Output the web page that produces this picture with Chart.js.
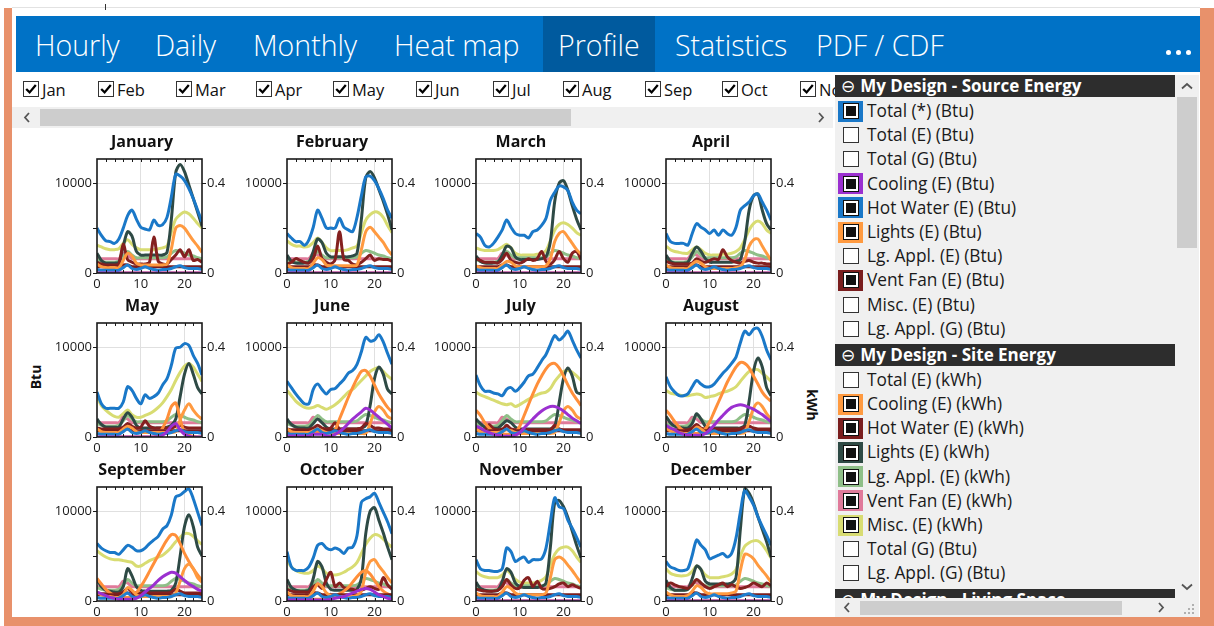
<!DOCTYPE html>
<html>
<head>
<meta charset="utf-8">
<title>Profile</title>
<script src="https://cdn.jsdelivr.net/npm/chart.js@4.4.1/dist/chart.umd.min.js"></script>
<style>
  html, body { margin: 0; padding: 0; }
  body { width: 1214px; height: 626px; overflow: hidden; position: relative; background: #fff;
         font-family: "Open Sans", sans-serif; color: #1a1a1a; }
  .abs { position: absolute; }
  #frame { left: 4px; top: 8px; width: 1210px; height: 618px; background: #e8916b; }
  #inner { left: 12px; top: 8px; width: 1188px; height: 609px; background: #fff; }
  #topline { left: 12px; top: 7px; width: 1188px; height: 1px; background: #e2e2e2; }
  #tabs { left: 16px; top: 16px; width: 1184px; height: 56px; background: #0072c6; }
  #tabsel { left: 527px; top: 0; width: 112px; height: 56px; background: #005a9e; }
  .tab { top: 1px; height: 56px; line-height: 56px; font-size: 28.5px; font-weight: 300; color: #fff; white-space: nowrap; }
  .dot { width: 5px; height: 5px; border-radius: 50%; background: #fff; top: 50px; }
  .mcb { top: 81px; height: 17px; white-space: nowrap; font-size: 16.5px; line-height: 17px; color: #111; }
  .mcb svg { vertical-align: top; margin-right: 3px; }
  #hscroll { left: 12px; top: 107px; width: 821px; height: 21px; background: #f0f0f0; }
  #hthumb { left: 40px; top: 109px; width: 531px; height: 17px; background: #cdcdcd; }
  #panel { left: 835px; top: 75px; width: 340px; height: 523px; background: #f0f0f0; overflow: hidden; }
  .hdr { height: 22px; background: #2d2d2d; color: #fff; font-weight: 700; font-size: 17px; line-height: 22px;
         padding-left: 6px; white-space: nowrap; margin-bottom: 2px; }
  .hdr.next { margin-top: 3px; }
  .hdr .minus { font-family: "DejaVu Sans", sans-serif; font-weight: 400; font-size: 17px; margin-right: 5px; }
  .row { height: 24.2px; position: relative; white-space: nowrap; }
  .cb { position: absolute; left: 3px; top: 1.6px; width: 25px; height: 21px; display: flex; align-items: center; justify-content: center; }
  .box { width: 14px; height: 14px; border: 1px solid #333; background: #fff; }
  .box.on { background: #111; border-color: #111; box-shadow: inset 0 0 0 2px #fff; }
  .lbl { position: absolute; left: 32px; top: 0; line-height: 24.2px; font-size: 17.3px; color: #1a1a1a; }
  #vscroll { left: 1175px; top: 75px; width: 24px; height: 523px; background: #f0f0f0; }
  #vthumb { left: 1177px; top: 97px; width: 20px; height: 151px; background: #cdcdcd; }
  #pscroll { left: 835px; top: 598px; width: 340px; height: 19px; background: #f0f0f0; }
  #pthumb { left: 860px; top: 601px; width: 262px; height: 14px; background: #cdcdcd; }
  #corner { left: 1175px; top: 598px; width: 24px; height: 19px; background: #f0f0f0; }
  .axlbl { font-weight: 700; font-size: 14px; color: #111; white-space: nowrap; }
  canvas { position: absolute; }
</style>
</head>
<body>
<div class="abs" id="frame"></div>
<div class="abs" id="inner"></div>
<div class="abs" id="topline"></div>
<div class="abs" style="left:105px;top:4px;width:1px;height:6px;background:#333"></div>

<div class="abs" id="tabs">
  <div class="abs" id="tabsel"></div>
  <div class="abs tab" style="left:19px">Hourly</div>
  <div class="abs tab" style="left:139px">Daily</div>
  <div class="abs tab" style="left:237px">Monthly</div>
  <div class="abs tab" style="left:378px">Heat map</div>
  <div class="abs tab" style="left:542px">Profile</div>
  <div class="abs tab" style="left:659px">Statistics</div>
  <div class="abs tab" style="left:800px">PDF / CDF</div>
</div>
<div class="abs dot" style="left:1166px"></div>
<div class="abs dot" style="left:1176px"></div>
<div class="abs dot" style="left:1186px"></div>

<div id="months"></div>

<div class="abs" id="hscroll"></div>
<div class="abs" id="hthumb"></div>
<svg class="abs" style="left:23px;top:112px" width="8" height="11"><polyline points="6,1 2,5.5 6,10" fill="none" stroke="#555" stroke-width="1.8"/></svg>
<svg class="abs" style="left:817px;top:112px" width="8" height="11"><polyline points="2,1 6,5.5 2,10" fill="none" stroke="#555" stroke-width="1.8"/></svg>

<div class="abs axlbl" style="left:35px;top:377px;transform:translate(-50%,-50%) rotate(-90deg)">Btu</div>
<div class="abs axlbl" style="left:812px;top:405px;transform:translate(-50%,-50%) rotate(90deg)">kWh</div>

<div id="charts"></div>

<div class="abs" id="panel"></div>
<div class="abs" id="vscroll"></div>
<div class="abs" id="vthumb"></div>
<svg class="abs" style="left:1181px;top:82px" width="12" height="8"><polyline points="1,6.5 6,2 11,6.5" fill="none" stroke="#555" stroke-width="1.8"/></svg>
<svg class="abs" style="left:1181px;top:583px" width="12" height="8"><polyline points="1,1.5 6,6 11,1.5" fill="none" stroke="#555" stroke-width="1.8"/></svg>
<div class="abs" id="pscroll"></div>
<div class="abs" id="pthumb"></div>
<svg class="abs" style="left:843px;top:602px" width="8" height="11"><polyline points="6,1 2,5.5 6,10" fill="none" stroke="#555" stroke-width="1.8"/></svg>
<svg class="abs" style="left:1157px;top:602px" width="8" height="11"><polyline points="2,1 6,5.5 2,10" fill="none" stroke="#555" stroke-width="1.8"/></svg>
<div class="abs" id="corner"></div>
<svg class="abs" style="left:1184px;top:604px" width="12" height="12" fill="#b0b0b0">
  <rect x="8" y="0" width="2" height="2"/><rect x="4" y="4" width="2" height="2"/><rect x="8" y="4" width="2" height="2"/>
  <rect x="0" y="8" width="2" height="2"/><rect x="4" y="8" width="2" height="2"/><rect x="8" y="8" width="2" height="2"/>
</svg>

<script>
const monthNames = ['January', 'February', 'March', 'April', 'May', 'June', 'July', 'August', 'September', 'October', 'November', 'December'];
const monthShort = ['Jan', 'Feb', 'Mar', 'Apr', 'May', 'Jun', 'Jul', 'Aug', 'Sep', 'Oct', 'Nov'];
const hours = [0, 1, 2, 3, 4, 5, 6, 7, 8, 9, 10, 11, 12, 13, 14, 15, 16, 17, 18, 19, 20, 21, 22, 23, 24];
const zeroDay = [0, 0, 0, 0, 0, 0, 0, 0, 0, 0, 0, 0, 0, 0, 0, 0, 0, 0, 0, 0, 0, 0, 0, 0, 0];

// axis ticks (labelled ones get text, the middle ones only a tick mark)
const hourTicks = [0, 10, 20];
const btuTicks = [0, 5000, 10000];
const btuLabels = ['0', '', '10000'];
const kwhTicks = [0, 0.2, 0.4];
const kwhLabels = ['0', '', '0.4'];

// Source energy, Btu (left axis)
const totalBtu = [
  [5000,4200,3600,3500,3300,3800,5000,6400,7000,6000,5100,4900,4800,5900,5300,5400,6200,8500,11000,10800,10300,9400,8300,7000,5700],
  [4400,3900,3500,3500,3100,3700,5100,7000,6100,5000,5000,5000,6100,5100,4800,4600,6200,8600,10700,10800,10300,9400,8300,7000,6100],
  [4400,4000,3100,2900,3300,4000,4800,5900,5100,4400,4200,4200,3900,4600,4800,5300,6100,8100,9000,9700,9600,9200,7900,7000,6600],
  [4400,3500,3300,3300,3300,3100,4400,5500,5100,4800,4400,4800,4200,4800,4400,4200,5100,7000,7500,7900,8600,8800,7900,7000,5900],
  [5000,3700,3200,3200,3200,3200,3900,5600,5200,4300,3700,4700,4300,4500,4900,5800,6500,8000,9900,10000,10400,10200,9100,8200,6900],
  [6200,5500,4800,4200,3700,3700,5300,5900,5300,4800,5300,5400,5900,6400,7100,7400,8100,9500,11100,10700,10800,11400,10600,9300,8100],
  [6900,5700,5100,5100,4900,4800,4600,5300,5500,5100,5500,6100,6800,7000,7700,8500,9200,10300,11300,10800,11200,11800,10800,9700,8800],
  [6700,5600,5000,4600,4600,4800,5600,6300,5900,5600,5600,5900,6500,7100,7600,8200,8900,10500,11800,11400,12000,12100,11200,9700,8600],
  [6400,5900,5600,5400,5400,5200,5700,6200,6000,5600,5600,5900,6400,6800,7200,8000,8400,9600,11600,11800,12200,12500,11400,9900,8400],
  [5500,3800,3400,3400,3400,3800,4800,6200,6400,5900,5700,5900,5700,5300,5900,6000,7300,11000,11400,11600,12000,11000,9900,8800,7500],
  [4600,3600,3400,3400,3300,3300,3600,5900,5500,4400,4700,4900,4300,4600,4600,4700,5900,8800,11500,10500,10300,9000,8100,7100,6000],
  [4400,3800,3600,3400,3400,3600,5100,6800,6200,5700,4700,4900,5100,5300,4900,5300,7000,9900,12300,11600,10700,9400,8300,7300,6200]
];
const coolBtu = [
  zeroDay, zeroDay, zeroDay, zeroDay,
  [0,0,0,0,0,0,0,0,0,0,0,0,0,0,0,200,600,1200,1500,800,300,100,0,0,0],
  [100,100,100,100,100,100,300,300,300,100,100,300,600,1000,1500,2000,2400,2800,3200,3000,2600,2200,1800,1400,1000],
  [1200,1000,700,500,300,200,100,100,100,200,500,1000,1500,2000,2500,2900,3200,3400,3400,3200,2900,2500,2100,1800,1500],
  [1300,1000,800,500,300,200,200,200,200,400,800,1300,1900,2400,2900,3300,3500,3600,3500,3300,3100,2800,2500,2100,1700],
  [1000,800,600,400,300,200,200,200,200,300,600,1000,1400,1800,2300,2700,3000,3200,3100,2700,2300,1900,1600,1300,1100],
  [100,100,100,100,100,100,100,100,100,100,200,300,400,500,700,900,1100,1300,1400,1300,1000,700,500,300,200],
  zeroDay, zeroDay
];
const hotWaterBtu = [400,300,300,300,300,300,600,900,500,400,500,700,500,400,300,400,400,500,700,800,600,500,500,500,400];
const lightsBtu = [
  [1000,700,600,600,600,600,1400,2200,1900,1100,900,900,900,900,900,900,1000,2700,5000,5300,5000,4300,3600,3000,2300],
  [900,600,500,500,500,500,1100,1700,1500,900,800,800,800,800,800,800,900,2600,4600,5100,4600,4000,3400,2600,2000],
  [800,600,500,500,500,500,900,1300,1200,800,700,700,700,700,700,700,800,1600,3500,4400,4600,4000,3300,2600,2100],
  [900,600,500,500,500,500,1000,1300,1100,700,500,500,500,500,500,500,600,700,1500,3000,3700,3800,3000,2200,1400],
  [900,600,500,500,500,500,900,1200,1000,600,500,500,500,500,500,500,500,500,600,1900,3000,3700,3000,2400,2000],
  [900,600,500,500,500,500,700,900,700,500,400,400,400,400,400,400,400,400,400,1500,2800,3400,3000,2300,2000],
  [900,600,500,500,500,500,600,800,700,500,400,400,400,400,400,400,400,400,500,1600,2900,3400,3000,2300,2000],
  [1000,700,500,500,400,400,600,1100,900,500,400,400,400,400,400,400,400,400,500,1700,3200,3800,3400,2600,2000],
  [1000,700,500,500,400,400,700,1500,1200,700,500,500,500,500,500,500,500,500,900,2200,3600,4100,3600,2600,2100],
  [1000,600,500,500,500,500,1100,1900,1600,900,600,500,500,500,500,500,600,1100,3200,4400,4600,3900,3300,2600,2000],
  [900,600,500,500,500,500,1000,1600,1400,900,700,700,700,700,700,700,900,2600,4600,4900,4600,4000,3400,2700,2000],
  [1000,700,500,500,500,600,1100,1700,1500,1000,800,800,800,800,800,900,1100,3400,5200,5100,4700,4000,3400,2800,2100]
];
const ventFanBtu = [700,700,700,700,700,700,900,900,700,700,700,700,700,700,700,700,700,700,700,700,700,700,700,700,700];

// Site energy, kWh (right axis)
const coolKwh = [
  zeroDay, zeroDay, zeroDay, zeroDay,
  [0,0,0,0,0,0,0,0,0,0,0,0,0,0,.012,.04,.08,.136,.152,.08,.02,.008,.004,0,0],
  [.02,.02,.02,.02,.02,.02,.02,.02,.02,.02,.02,.032,.08,.128,.176,.22,.26,.292,.296,.272,.232,.192,.16,.132,.112],
  [.12,.096,.064,.04,.024,.016,.012,.012,.012,.02,.048,.096,.144,.192,.236,.272,.304,.324,.328,.308,.272,.232,.196,.168,.14],
  [.12,.096,.068,.044,.028,.02,.016,.016,.02,.036,.068,.112,.156,.2,.244,.28,.312,.332,.328,.308,.272,.236,.2,.176,.16],
  [.1,.076,.052,.036,.024,.02,.016,.016,.02,.036,.064,.096,.132,.168,.204,.24,.272,.296,.292,.256,.212,.176,.144,.116,.092],
  [.008,.008,.008,.008,.008,.008,.008,.008,.008,.008,.012,.02,.032,.044,.06,.084,.108,.128,.136,.12,.092,.064,.044,.032,.024],
  zeroDay, zeroDay
];
const hotWaterKwh = [
  [.048,.04,.036,.036,.036,.04,.128,.06,.048,.04,.04,.04,.048,.16,.052,.04,.04,.06,.08,.104,.072,.104,.056,.06,.048],
  [.04,.048,.064,.056,.048,.044,.064,.12,.064,.048,.04,.06,.184,.06,.056,.04,.036,.048,.064,.08,.056,.064,.06,.06,.052],
  [.064,.056,.048,.048,.048,.044,.06,.088,.056,.048,.044,.052,.064,.056,.064,.096,.052,.04,.06,.096,.064,.048,.088,.096,.06],
  [.052,.044,.04,.04,.04,.04,.044,.064,.052,.048,.056,.064,.06,.104,.072,.056,.048,.044,.052,.056,.048,.044,.044,.04,.04],
  [.04,.036,.036,.036,.036,.036,.044,.06,.048,.04,.044,.072,.048,.04,.04,.04,.04,.04,.048,.052,.044,.04,.04,.04,.04],
  [.036,.032,.032,.032,.032,.032,.04,.052,.04,.036,.04,.064,.036,.036,.036,.036,.036,.04,.06,.052,.04,.04,.036,.036,.036],
  [.032,.032,.032,.056,.036,.032,.032,.052,.036,.032,.032,.032,.032,.032,.032,.032,.032,.032,.052,.036,.032,.032,.032,.032,.032],
  [.032,.032,.032,.032,.032,.032,.04,.056,.04,.036,.036,.036,.036,.036,.036,.036,.036,.036,.044,.048,.04,.036,.036,.036,.036],
  [.036,.032,.032,.032,.032,.032,.04,.056,.04,.036,.036,.036,.036,.036,.036,.036,.036,.04,.052,.044,.036,.036,.036,.036,.036],
  [.052,.044,.04,.04,.04,.04,.064,.072,.056,.096,.128,.064,.08,.06,.056,.052,.048,.048,.056,.064,.056,.052,.104,.072,.052],
  [.052,.048,.044,.044,.044,.048,.064,.096,.072,.056,.06,.092,.104,.064,.088,.056,.052,.056,.064,.076,.08,.064,.072,.064,.056],
  [.064,.08,.072,.064,.06,.056,.072,.096,.08,.064,.056,.064,.072,.08,.064,.072,.064,.056,.06,.068,.08,.072,.064,.08,.068]
];
const lightsKwh = [
  [.088,.056,.044,.044,.044,.048,.12,.184,.164,.096,.08,.08,.08,.08,.08,.08,.092,.24,.448,.484,.452,.392,.332,.272,.208],
  [.08,.052,.044,.044,.044,.048,.096,.152,.136,.088,.072,.072,.072,.072,.072,.076,.088,.24,.424,.452,.424,.372,.32,.26,.192],
  [.076,.052,.044,.044,.044,.048,.08,.12,.112,.072,.06,.06,.06,.06,.06,.064,.072,.14,.32,.4,.412,.368,.3,.24,.192],
  [.08,.052,.044,.044,.044,.048,.088,.116,.096,.064,.048,.048,.048,.048,.048,.048,.052,.06,.14,.28,.344,.352,.28,.22,.192],
  [.08,.056,.044,.044,.044,.044,.08,.108,.088,.052,.04,.04,.04,.04,.04,.04,.044,.052,.08,.18,.28,.328,.28,.22,.192],
  [.08,.056,.044,.04,.04,.04,.06,.08,.064,.044,.036,.036,.036,.036,.036,.036,.036,.04,.052,.14,.26,.312,.28,.212,.192],
  [.08,.06,.044,.04,.04,.04,.056,.072,.064,.044,.036,.036,.036,.036,.036,.036,.036,.036,.048,.152,.26,.308,.272,.2,.192],
  [.092,.064,.048,.044,.04,.04,.06,.104,.08,.048,.04,.04,.04,.04,.04,.04,.04,.04,.052,.16,.292,.352,.312,.22,.184],
  [.096,.064,.048,.044,.04,.04,.064,.144,.112,.064,.048,.044,.044,.044,.044,.044,.044,.048,.08,.2,.332,.384,.332,.24,.2],
  [.096,.06,.048,.044,.044,.048,.1,.176,.152,.08,.052,.048,.048,.048,.048,.048,.052,.1,.3,.4,.416,.36,.304,.24,.184],
  [.084,.056,.048,.044,.044,.048,.088,.144,.128,.08,.064,.06,.06,.06,.06,.064,.08,.24,.44,.448,.42,.372,.312,.248,.192],
  [.092,.06,.048,.048,.048,.052,.1,.156,.14,.088,.076,.076,.076,.076,.076,.08,.104,.32,.5,.48,.436,.376,.32,.264,.196]
];
const lgApplKwh = [.06,.052,.048,.048,.048,.052,.072,.096,.08,.068,.068,.068,.068,.068,.068,.068,.072,.088,.1,.096,.088,.08,.076,.068,.064];
const ventFanKwh = [.064,.064,.064,.064,.064,.064,.088,.08,.064,.064,.064,.064,.064,.064,.064,.064,.064,.064,.064,.064,.064,.064,.064,.064,.064];
const miscKwh = [
  [.124,.116,.108,.104,.104,.108,.132,.148,.128,.112,.104,.104,.104,.104,.108,.112,.12,.184,.24,.26,.272,.264,.244,.22,.2],
  [.144,.128,.12,.12,.116,.12,.136,.156,.136,.112,.1,.1,.1,.1,.104,.112,.12,.18,.236,.26,.272,.268,.248,.212,.18],
  [.112,.104,.1,.1,.1,.104,.116,.128,.112,.088,.08,.08,.08,.08,.084,.088,.1,.144,.192,.216,.224,.216,.2,.18,.168],
  [.12,.104,.096,.092,.088,.088,.104,.116,.104,.088,.08,.08,.08,.084,.084,.088,.096,.112,.148,.192,.22,.232,.22,.192,.176],
  [.18,.14,.12,.104,.092,.088,.104,.12,.1,.088,.088,.096,.104,.116,.132,.152,.18,.212,.252,.288,.316,.328,.312,.28,.248],
  [.208,.184,.16,.144,.132,.128,.132,.14,.132,.124,.132,.144,.16,.18,.2,.212,.232,.252,.272,.292,.304,.308,.292,.272,.256],
  [.2,.188,.18,.172,.164,.156,.148,.144,.148,.136,.144,.156,.168,.18,.188,.196,.2,.216,.248,.272,.292,.296,.288,.272,.252],
  [.208,.196,.192,.188,.184,.184,.188,.192,.188,.176,.18,.184,.192,.2,.204,.212,.224,.248,.272,.292,.3,.3,.284,.268,.248],
  [.224,.208,.196,.188,.184,.184,.18,.176,.172,.156,.156,.168,.18,.188,.196,.204,.22,.24,.264,.284,.3,.3,.288,.268,.252],
  [.18,.152,.136,.128,.124,.124,.136,.156,.144,.124,.12,.116,.12,.128,.14,.152,.172,.212,.252,.28,.296,.292,.276,.256,.24],
  [.132,.116,.108,.104,.104,.104,.116,.136,.12,.096,.084,.08,.08,.08,.084,.092,.108,.16,.208,.232,.24,.24,.224,.196,.172],
  [.144,.124,.116,.112,.112,.116,.132,.156,.14,.116,.104,.104,.104,.108,.112,.12,.14,.2,.244,.26,.268,.268,.252,.224,.192]
];

const series = [
  { label: 'Total (*) (Btu)', color: '#1a78c8', axis: 'y', values: totalBtu },
  { label: 'Cooling (E) (Btu)', color: '#9b30d0', axis: 'y', values: coolBtu },
  { label: 'Hot Water (E) (Btu)', color: '#1f7fd0', axis: 'y', values: hotWaterBtu },
  { label: 'Lights (E) (Btu)', color: '#ff9a40', axis: 'y', values: lightsBtu },
  { label: 'Vent Fan (E) (Btu)', color: '#7a1e1e', axis: 'y', values: ventFanBtu },
  { label: 'Cooling (E) (kWh)', color: '#ff8f3a', axis: 'y1', values: coolKwh },
  { label: 'Hot Water (E) (kWh)', color: '#84201f', axis: 'y1', values: hotWaterKwh },
  { label: 'Lights (E) (kWh)', color: '#2e4a45', axis: 'y1', values: lightsKwh },
  { label: 'Lg. Appl. (E) (kWh)', color: '#8fbf88', axis: 'y1', values: lgApplKwh },
  { label: 'Vent Fan (E) (kWh)', color: '#e07a9a', axis: 'y1', values: ventFanKwh },
  { label: 'Misc. (E) (kWh)', color: '#d8dc72', axis: 'y1', values: miscKwh }
];

const sourceItems = [
  ['Total (*) (Btu)', '#1a78c8'], ['Total (E) (Btu)', null], ['Total (G) (Btu)', null],
  ['Cooling (E) (Btu)', '#9b30d0'], ['Hot Water (E) (Btu)', '#1a78c8'], ['Lights (E) (Btu)', '#ff9a40'],
  ['Lg. Appl. (E) (Btu)', null], ['Vent Fan (E) (Btu)', '#7a1e1e'], ['Misc. (E) (Btu)', null], ['Lg. Appl. (G) (Btu)', null]
];
const siteItems = [
  ['Total (E) (kWh)', null], ['Cooling (E) (kWh)', '#ff9a40'], ['Hot Water (E) (kWh)', '#7a1e1e'],
  ['Lights (E) (kWh)', '#2e4a45'], ['Lg. Appl. (E) (kWh)', '#8fbf88'], ['Vent Fan (E) (kWh)', '#e07a9a'],
  ['Misc. (E) (kWh)', '#d8dc72'], ['Total (G) (Btu)', null], ['Lg. Appl. (G) (Btu)', null]
];

// month check boxes
const monthBoxX = [23, 98, 176, 256, 333, 416, 493, 563, 645, 722, 800];
const monthsDiv = document.getElementById('months');
monthShort.forEach((m, i) => {
  const d = document.createElement('div');
  d.className = 'abs mcb';
  d.style.left = monthBoxX[i] + 'px';
  d.innerHTML = '<svg width="16" height="16"><rect x="0.5" y="0.5" width="15" height="15" fill="#fff" stroke="#333"/>' +
    '<path d="M3.2 8 L6.6 11.4 L12.8 4" stroke="#000" stroke-width="2.3" fill="none"/></svg>' + m;
  monthsDiv.appendChild(d);
});

// series list on the right
const panel = document.getElementById('panel');
function addHeader(text, first) {
  const h = document.createElement('div');
  h.className = first ? 'hdr' : 'hdr next';
  h.innerHTML = '<span class="minus">\u2296</span>' + text;
  panel.appendChild(h);
}
function addItem(label, color) {
  const r = document.createElement('div');
  r.className = 'row';
  const cb = color
    ? '<span class="cb" style="background:' + color + '"><span class="box on"></span></span>'
    : '<span class="cb"><span class="box"></span></span>';
  r.innerHTML = cb + '<span class="lbl">' + label + '</span>';
  panel.appendChild(r);
}
addHeader('My Design - Source Energy', true);
sourceItems.forEach(it => addItem(it[0], it[1]));
addHeader('My Design - Site Energy');
siteItems.forEach(it => addItem(it[0], it[1]));
addHeader('My Design - Living Space');

// frame round each plot, with small inside ticks
const framePlugin = {
  id: 'frame',
  afterDatasetsDraw(chart) {
    const { ctx, chartArea: a, scales } = chart;
    ctx.save();
    ctx.strokeStyle = '#1a1a1a';
    ctx.lineWidth = 1;
    ctx.beginPath();
    for (let h = 2; h < 24; h += 2) {
      const x = Math.round(scales.x.getPixelForValue(h)) + 0.5;
      ctx.moveTo(x, a.top); ctx.lineTo(x, a.top + 3);
      ctx.moveTo(x, a.bottom); ctx.lineTo(x, a.bottom - 3);
    }
    ctx.stroke();
    ctx.lineWidth = 1.6;
    ctx.strokeRect(a.left, a.top, a.right - a.left, a.bottom - a.top);
    ctx.restore();
  }
};

Chart.defaults.font.family = '"Open Sans", sans-serif';
const tickFont = { size: 13 };
const pick = (arr, m) => (Array.isArray(arr[0]) ? arr[m] : arr);
const setTicks = vals => s => { s.ticks = vals.map(v => ({ value: v })); };

const chartsDiv = document.getElementById('charts');
monthNames.forEach((name, m) => {
  const col = m % 4, row = Math.floor(m / 4);
  const canvas = document.createElement('canvas');
  canvas.width = 190;
  canvas.height = 164;
  canvas.style.left = Math.round(47 + col * 189.7) + 'px';
  canvas.style.top = (130 + row * 164) + 'px';
  chartsDiv.appendChild(canvas);

  new Chart(canvas, {
    type: 'line',
    data: {
      datasets: series.map(s => {
        const vals = pick(s.values, m);
        return {
          label: s.label,
          data: hours.map((h, i) => ({ x: h, y: vals[i] })),
          yAxisID: s.axis,
          borderColor: s.color,
          backgroundColor: s.color,
          borderWidth: 3,
          pointRadius: 0,
          tension: 0.3,
          borderJoinStyle: 'round',
          fill: false
        };
      })
    },
    options: {
      responsive: false,
      animation: false,
      events: [],
      layout: { padding: 0 },
      plugins: {
        legend: { display: false },
        tooltip: { enabled: false },
        title: {
          display: true,
          text: name,
          color: '#111',
          font: { size: 16, weight: 'bold', lineHeight: 1.2 },
          padding: { top: 3, bottom: 6.8 }
        }
      },
      scales: {
        x: {
          type: 'linear', min: 0, max: 24,
          afterBuildTicks: setTicks(hourTicks),
          afterFit: s => { s.height = 21; },
          border: { display: false },
          grid: { drawTicks: false, color: c => (c.tick && c.tick.value > 0 ? '#e0e0e0' : 'rgba(0,0,0,0)') },
          ticks: { autoSkip: false, padding: 3, maxRotation: 0, color: '#1a1a1a', font: tickFont }
        },
        y: {
          position: 'left', min: 0, max: 12700,
          afterBuildTicks: setTicks(btuTicks),
          afterFit: s => { s.width = 50; },
          border: { display: false },
          grid: { color: c => (c.tick && c.tick.value === 10000 ? '#e0e0e0' : 'rgba(0,0,0,0)'), tickColor: '#1a1a1a', tickLength: 4 },
          ticks: { autoSkip: false, padding: 1, color: '#1a1a1a', font: tickFont, callback: (v, i) => btuLabels[i] }
        },
        y1: {
          position: 'right', min: 0, max: 0.508,
          afterBuildTicks: setTicks(kwhTicks),
          afterFit: s => { s.width = 35; },
          border: { display: false },
          grid: { drawOnChartArea: false, tickColor: '#1a1a1a', tickLength: 4 },
          ticks: { autoSkip: false, padding: 1, color: '#1a1a1a', font: tickFont, callback: (v, i) => kwhLabels[i] }
        }
      }
    },
    plugins: [framePlugin]
  });
});
</script>
</body>
</html>
